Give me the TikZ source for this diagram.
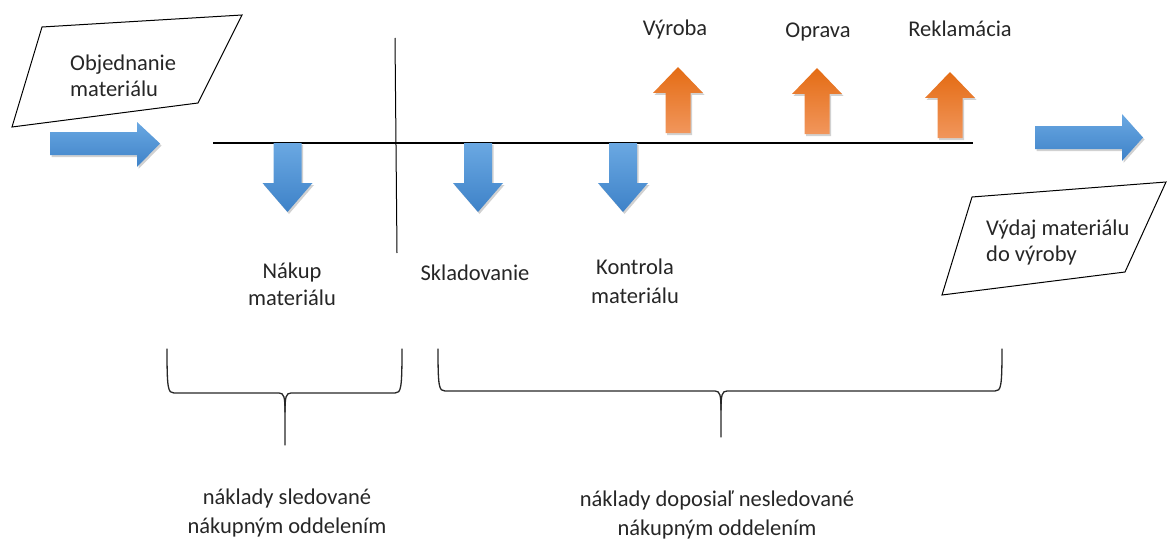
\documentclass[tikz,border=0pt]{standalone}
\usepackage{fontspec}
\setmainfont{Carlito}
\usetikzlibrary{shadows}
\definecolor{blueL}{HTML}{6AA8E2}
\definecolor{blueD}{HTML}{3E82C8}
\definecolor{orangeD}{HTML}{E46C14}
\definecolor{orangeL}{HTML}{F1965C}
\definecolor{textgray}{HTML}{262626}
\begin{document}
\begin{tikzpicture}[x=1pt,y=-1pt,
  lbl/.style={font=\fontsize{22.5}{27}\selectfont, text=textgray, inner sep=0pt, align=center},
  outline/.style={draw=black, line width=1pt, line join=miter},
  softshadow/.style={drop shadow={shadow xshift=1.5pt, shadow yshift=-2pt, opacity=0.18, fill=black}},
  bluearrow/.style={top color=blueL, bottom color=blueD, draw=none, softshadow},
  orangearrow/.style={top color=orangeD, bottom color=orangeL, draw=none, softshadow},
  bracestroke/.style={draw=black!85, line width=1.3pt, line cap=round},
  downarrow/.pic={\path[bluearrow] (-14,0) -- (14,0) -- (14,40) -- (25,40) -- (0,69)
                   -- (-25,40) -- (-14,40) -- cycle;},
  uparrow/.pic={\path[orangearrow] (0,0) -- (25,26) -- (12.5,26) -- (12.5,66)
                   -- (-12.5,66) -- (-12.5,26) -- (-25,26) -- cycle;}
]
\useasboundingbox (0,0) rectangle (1168,543);

% time line and divider
\draw[line width=1.2pt] (213,143) -- (973,143);
\draw[line width=1pt] (395,38) -- (397,253);

% input and output documents
\draw[outline] (42,27) -- (242,15) -- (198,103) -- (12,127) -- cycle;
\node[lbl, align=left, anchor=west, font=\fontsize{22.5}{26}\selectfont] (order) at (70,76) {Objednanie\\materiálu};
\draw[outline] (972,197) -- (1166,182) -- (1125,272) -- (942,295) -- cycle;
\node[lbl, align=left, anchor=west, font=\fontsize{22.5}{26}\selectfont] (issue) at (986,242) {Výdaj materiálu\\do výroby};

% flow arrows
\path[bluearrow] (50,132) -- (137,132) -- (137,122) -- (160,143.5) -- (137,167)
  -- (137,155) -- (50,155) -- cycle;
\path[bluearrow] (1035,126) -- (1122,126) -- (1122,114) -- (1143,137.5) -- (1122,161)
  -- (1122,149) -- (1035,149) -- cycle;

% activity arrows
\pic at (287.5,143) {downarrow};
\pic at (478,143) {downarrow};
\pic at (623,143) {downarrow};
\pic at (678,67) {uparrow};
\pic at (817,68) {uparrow};
\pic at (950,72) {uparrow};

% activity labels
\node[lbl] (buy) at (292,284) {Nákup\\materiálu};
\node[lbl] (store) at (475,273) {Skladovanie};
\node[lbl, font=\fontsize{22.5}{29}\selectfont] (check) at (635,281) {Kontrola\\materiálu};
\node[lbl] (prod) at (675,30) {Výroba};
\node[lbl] (repair) at (818,32) {Oprava};
\node[lbl] (claim) at (960,29) {Reklamácia};

% braces
\draw[bracestroke] (167,349) .. controls (167,389) and (168,393) .. (174,393) -- (279,393)
  .. controls (284,393) and (285,397) .. (285,412) -- (285,445);
\draw[bracestroke] (402,349) .. controls (402,389) and (401,393) .. (395,393) -- (291,393)
  .. controls (286,393) and (285,397) .. (285,412);
\draw[bracestroke] (438,349) .. controls (438,387) and (439,391) .. (445,391) -- (715,391)
  .. controls (720,391) and (721,395) .. (721,410) -- (721,437);
\draw[bracestroke] (1002,349) .. controls (1002,387) and (1001,391) .. (995,391) -- (727,391)
  .. controls (722,391) and (721,395) .. (721,410);

% cost groups
\node[lbl, font=\fontsize{22.5}{29}\selectfont] (tracked) at (287,513) {náklady sledované\\nákupným oddelením};
\node[lbl, font=\fontsize{22.5}{29}\selectfont] (untracked) at (717,515) {náklady doposiaľ nesledované\\nákupným oddelením};
\end{tikzpicture}
\end{document}
